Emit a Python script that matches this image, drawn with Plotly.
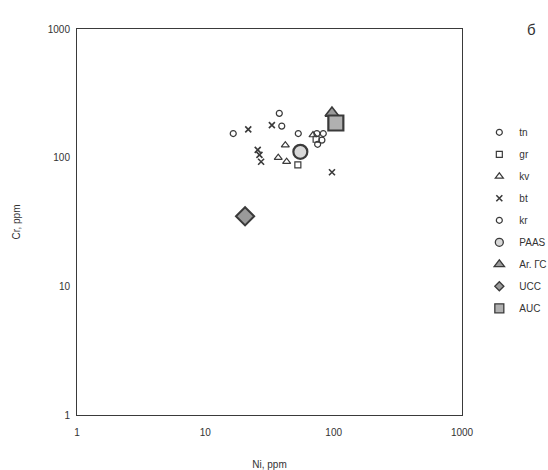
import plotly.graph_objects as go

# Data (Ni, Cr in ppm)
tn_ni = [16.5, 37.7, 39.4]
tn_cr = [154, 221, 176]
gr_ni = [52.6, 73]
gr_cr = [88, 139]
kv_ni = [37, 42, 43, 69]
kv_cr = [100, 125, 93, 150]
bt_ni = [21.6, 33, 25.6, 26.4, 27.2, 97]
bt_cr = [166, 179, 115, 105, 93, 77]
kr_ni = [53, 74, 83, 81, 75]
kr_cr = [154, 154, 154, 137, 127]
paas_ni = [55]
paas_cr = [111]
args_ni = [97]
args_cr = [222]
ucc_ni = [20.4]
ucc_cr = [35]
auc_ni = [104]
auc_cr = [186]

tick_vals = [1, 10, 100, 1000]
tick_text = ["1", "10", "100", "1000"]

dark = "#3a3a3a"
fig = go.Figure()
order = ["tn", "gr", "kv", "bt", "kr", "PAAS", "Ar. ГС", "UCC", "AUC"]


def add(name, x, y, symbol, size, fill, lw, leg_size=None):
    rank = order.index(name) + 1
    show_in_plot_legend = leg_size is None
    fig.add_trace(go.Scatter(
        x=x, y=y, mode="markers", name=name, legendgroup=name,
        showlegend=show_in_plot_legend, legendrank=rank,
        marker=dict(symbol=symbol, size=size, color=fill,
                    line=dict(color=dark, width=lw)),
    ))
    if leg_size is not None:
        # legend-only entry with a smaller symbol, as in the reference key
        fig.add_trace(go.Scatter(
            x=[None], y=[None], mode="markers", name=name, legendgroup=name,
            showlegend=True, legendrank=rank,
            marker=dict(symbol=symbol, size=leg_size, color=fill,
                        line=dict(color=dark, width=1.3)),
        ))


add("tn", tn_ni, tn_cr, "circle-open", 6, dark, 1.2)
add("gr", gr_ni, gr_cr, "square-open", 6, dark, 1.2)
add("kv", kv_ni, kv_cr, "triangle-up-open", 7, dark, 1.2)
add("bt", bt_ni, bt_cr, "x-thin-open", 6, dark, 1.6)
add("kr", kr_ni, kr_cr, "circle-open", 6, dark, 1.2)
add("Ar. ГС", args_ni, args_cr, "triangle-up", 12, "#9a9a9a", 1.6, leg_size=9)
add("PAAS", paas_ni, paas_cr, "circle", 14, "#d8d8d8", 2.2, leg_size=8)
add("UCC", ucc_ni, ucc_cr, "diamond", 14, "#9a9a9a", 2, leg_size=7)
add("AUC", auc_ni, auc_cr, "square", 15, "#b0b0b0", 2.2, leg_size=9)

font_family = "Arial, Liberation Sans"
axis_common = dict(
    type="log", range=[0, 3], tickvals=tick_vals, ticktext=tick_text,
    showline=True, linecolor=dark, linewidth=1, mirror=True,
    showgrid=False, zeroline=False, ticks="",
    tickfont=dict(family=font_family, size=10, color="#333"),
    title_font=dict(family=font_family, size=10, color="#333"),
)

fig.update_layout(
    width=548, height=470,
    margin=dict(l=77, r=86, t=29, b=55, autoexpand=False),
    paper_bgcolor="white", plot_bgcolor="white",
    xaxis=dict(axis_common, title=dict(text="Ni, ppm", standoff=24),
               ticklabelstandoff=8),
    yaxis=dict(axis_common, title=dict(text="Cr, ppm", standoff=25),
               ticklabelstandoff=4),
    legend=dict(x=1.045, y=0.77, xanchor="left", yanchor="top",
                font=dict(family=font_family, size=10, color="#333"),
                tracegroupgap=3, itemwidth=30, bgcolor="rgba(0,0,0,0)"),
    showlegend=True,
)

fig.add_annotation(text="б", xref="paper", yref="paper", x=1.18, y=1.0,
                   xanchor="center", yanchor="middle", showarrow=False,
                   font=dict(family=font_family, size=15, color="#333"))

fig.write_html("out.html")
